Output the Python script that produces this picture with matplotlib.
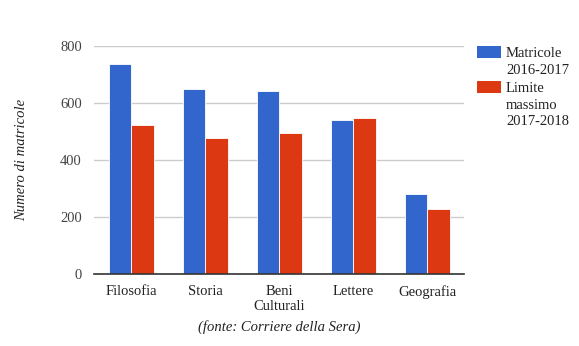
import numpy as np
import matplotlib
matplotlib.use('Agg')
import matplotlib.pyplot as plt
from matplotlib.patches import Rectangle

categories = ['Filosofia', 'Storia', 'Beni\nCulturali', 'Lettere', 'Geografia']
matricole_2016 = [737, 649, 642, 540, 281]
limite_2017 = [525, 477, 495, 547, 228]
series_labels = ['Matricole\n2016-2017', 'Limite\nmassimo\n2017-2018']
colors = ['#3366cc', '#dc3912']

plt.rcParams['font.family'] = ['Liberation Serif', 'DejaVu Serif']

W, H = 579, 346
fig = plt.figure(figsize=(W / 100, H / 100), dpi=100)
ax = fig.add_axes([0.163, 0.207, 0.639, 0.660])

x = np.arange(len(categories))
w = 0.30
ax.bar(x - w / 2, matricole_2016, width=w, color=colors[0], edgecolor='white', linewidth=0.6, zorder=3)
ax.bar(x + w / 2, limite_2017, width=w, color=colors[1], edgecolor='white', linewidth=0.6, zorder=3)

ax.set_xlim(-0.5, len(categories) - 0.5)
ax.set_ylim(0, 800)
ax.set_yticks([0, 200, 400, 600, 800])
ax.set_xticks(x)
ax.set_xticklabels(categories, fontsize=10.5, color='#222222')
ax.tick_params(axis='both', length=0, labelsize=10.5, labelcolor='#444444')
ax.tick_params(axis='x', pad=8, labelcolor='#222222')
ax.tick_params(axis='y', pad=9)
ax.grid(axis='y', color='#cccccc', linewidth=1, zorder=0)
for s in ['top', 'right', 'left']:
    ax.spines[s].set_visible(False)
ax.spines['bottom'].set_color('#333333')
ax.spines['bottom'].set_linewidth(1.2)
ax.spines['bottom'].set_zorder(4)

# y axis title, placed in figure coords
fig.text(22 / W, 1 - 160 / H, 'Numero di matricole', rotation=90, ha='center', va='center',
         fontsize=10.5, style='italic', color='#222222')

# legend: colour boxes with multi-line labels beside them
box_tops = [46, 81]
for c, lab, top in zip(colors, series_labels, box_tops):
    fig.patches.append(Rectangle((477 / W, 1 - (top + 12) / H), 24 / W, 12 / H,
                                 transform=fig.transFigure, facecolor=c, edgecolor='none'))
    fig.text(506 / W, 1 - (top + 1) / H, lab, ha='left', va='top', fontsize=10.5,
             color='#222222', linespacing=1.37)

fig.text(0.482, 1 - 327 / H, '(fonte: Corriere della Sera)', ha='center', va='center',
         fontsize=10.5, style='italic', color='#222222')

fig.savefig('out.png', dpi=100)
